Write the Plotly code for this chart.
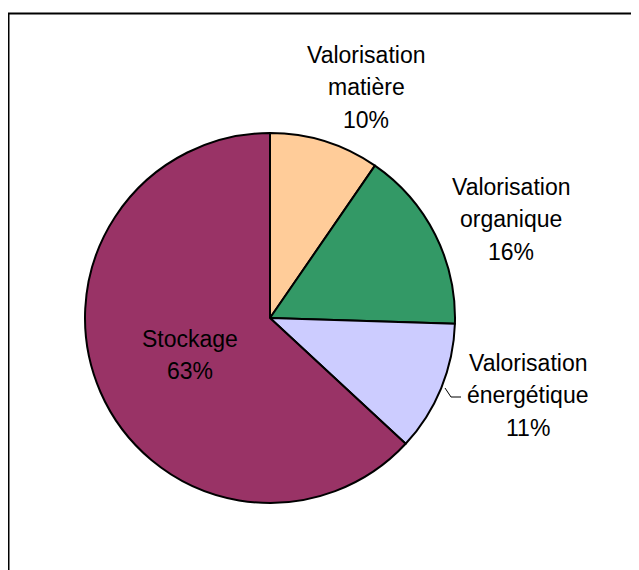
import plotly.graph_objects as go

# Data
categories = ["Valorisation matière", "Valorisation organique", "Valorisation énergétique", "Stockage"]
label_lines = [["Valorisation", "matière"], ["Valorisation", "organique"], ["Valorisation", "énergétique"], ["Stockage"]]
values = [9.6, 15.9, 11.4, 63.1]
colors = ["#FFCC99", "#339966", "#CCCCFF", "#993366"]

PAGE_W, PAGE_H = 639, 570
OFF = 8  # default body margin of the html page
W, H = PAGE_W - OFF, PAGE_H - OFF

cx, cy, r = 270, 318, 185  # page pixel coordinates


def px(x):
    return (x - OFF) / W


def py(y):
    return 1 - (y - OFF) / H


fig = go.Figure(go.Pie(
    labels=categories,
    values=values,
    sort=False,
    direction="clockwise",
    rotation=0,
    marker=dict(colors=colors, line=dict(color="black", width=2)),
    textinfo="none",
    hoverinfo="label+percent",
    showlegend=False,
    domain=dict(x=[px(cx - r), px(cx + r)], y=[py(cy + r), py(cy - r)]),
))

total = sum(values)
pcts = [f"{round(v / total * 100)}%" for v in values]

# label placement: (center x, first baseline) in page pixels
placements = [(366, 63), (510.5, 195), (527.5, 371), (190, 347)]
spacing = 32.3
font = dict(family="Liberation Sans, Arial, sans-serif", size=23, color="black")

annotations = []
for lines, pct, (x, b) in zip(label_lines, pcts, placements):
    all_lines = lines + [pct]
    for i, t in enumerate(all_lines):
        base = b + i * spacing
        annotations.append(dict(
            text=t, x=px(x), y=py(base - 8), xref="paper", yref="paper",
            xanchor="center", yanchor="middle", showarrow=False, font=font,
        ))

shapes = [
    # outer chart frame
    dict(type="rect", xref="paper", yref="paper",
         x0=px(8.5), x1=px(700), y0=py(640), y1=py(13.5),
         line=dict(color="black", width=2), fillcolor="rgba(0,0,0,0)"),
    # leader line for énergétique label
    dict(type="path", xref="paper", yref="paper",
         path=f"M {px(445)} {py(388)} L {px(451)} {py(397)} L {px(461)} {py(397)}",
         line=dict(color="black", width=1)),
]

fig.update_layout(
    width=W, height=H,
    margin=dict(l=0, r=0, t=0, b=0),
    paper_bgcolor="white",
    plot_bgcolor="white",
    annotations=annotations,
    shapes=shapes,
)

fig.write_html("out.html")
